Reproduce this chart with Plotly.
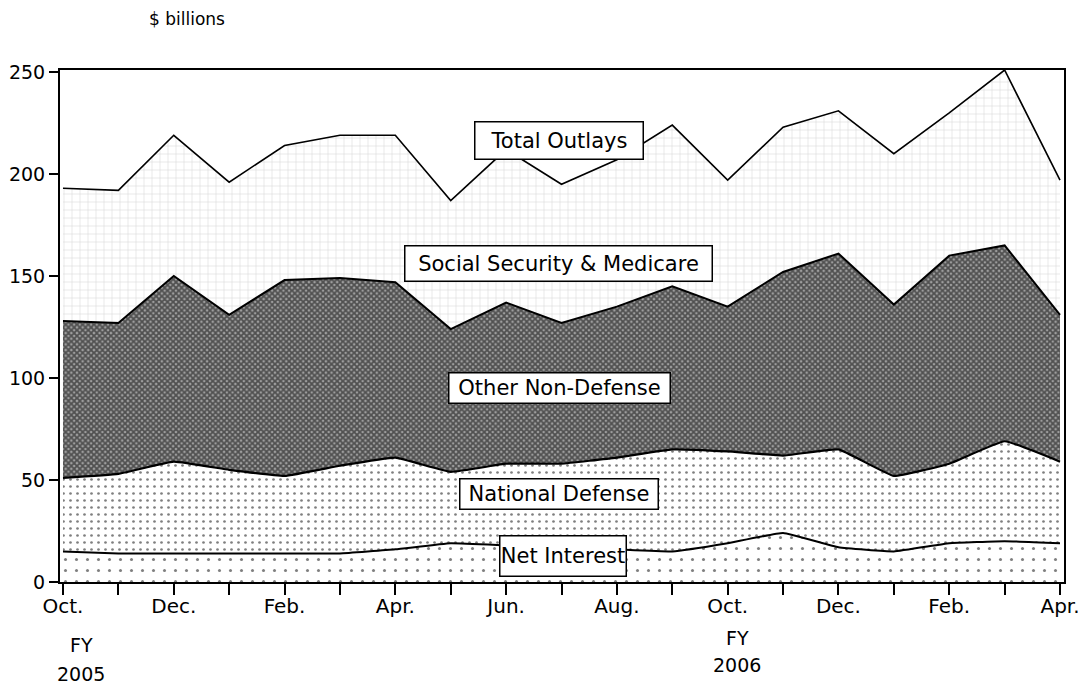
import plotly.graph_objects as go

months = ["Oct.", "Nov.", "Dec.", "Jan.", "Feb.", "Mar.", "Apr.", "May", "Jun.", "Jul.",
          "Aug.", "Sep.", "Oct.", "Nov.", "Dec.", "Jan.", "Feb.", "Mar.", "Apr."]
tick_labels = ["Oct.", "", "Dec.", "", "Feb.", "", "Apr.", "", "Jun.", "",
               "Aug.", "", "Oct.", "", "Dec.", "", "Feb.", "", "Apr."]
y_ticks = [0, 50, 100, 150, 200, 250]

# $ billions per month, Oct. FY2005 .. Apr. FY2006
net_interest = [15, 14, 14, 14, 14, 14, 16, 19, 18, 17, 16, 15, 19, 24, 17, 15, 19, 20, 19]
national_defense = [36, 39, 45, 41, 38, 43, 45, 35, 40, 41, 45, 50, 45, 38, 48, 37, 39, 49, 40]
other_non_defense = [77, 74, 91, 76, 96, 92, 86, 70, 79, 69, 74, 80, 71, 90, 96, 84, 102, 96, 72]
ss_medicare = [65, 65, 69, 65, 66, 70, 72, 63, 75, 68, 72, 79, 62, 71, 70, 74, 70, 86, 66]

x = list(range(len(months)))
FONT = "DejaVu Sans, Verdana, sans-serif"

OFF = 8  # page body margin
W, H = 1078, 678
L, T = 60 - OFF, 70 - OFF
PW, PH = 1004, 512
R, B = W - L - PW, H - T - PH


def py2paper(py):
    return (T + PH - (py - OFF)) / PH


def px2paper(px):
    return ((px - OFF) - L) / PW


fig = go.Figure()
fig.add_trace(go.Scatter(
    x=x, y=net_interest, name="Net Interest", stackgroup="one", mode="lines",
    line=dict(color="black", width=2, shape="spline", smoothing=0.3),
    fillcolor="white",
    fillpattern=dict(shape=".", fgcolor="black", bgcolor="white", size=11, solidity=0.06),
))
fig.add_trace(go.Scatter(
    x=x, y=national_defense, name="National Defense", stackgroup="one", mode="lines",
    line=dict(color="black", width=2.2, shape="spline", smoothing=0.3),
    fillcolor="white",
    fillpattern=dict(shape=".", fgcolor="black", bgcolor="white", size=7, solidity=0.12),
))
fig.add_trace(go.Scatter(
    x=x, y=other_non_defense, name="Other Non-Defense", stackgroup="one", mode="lines",
    line=dict(color="black", width=2),
    fillcolor="#333333",
    fillpattern=dict(shape="x", fgcolor="black", bgcolor="#a0a0a0", size=4, solidity=0.7),
))
fig.add_trace(go.Scatter(
    x=x, y=ss_medicare, name="Social Security & Medicare", stackgroup="one", mode="lines",
    line=dict(color="black", width=1.6),
    fillcolor="#f0f0f0",
    fillpattern=dict(shape="+", fgcolor="#a8a8a8", bgcolor="white", size=8, solidity=0.12),
))

# boxed labels: text, centre x px, centre y px, box width px, box height px
boxes = [
    ("Total Outlays", 559, 140, 170, 39),
    ("Social Security & Medicare", 558, 263, 309, 37),
    ("Other Non-Defense", 559, 388, 223, 32),
    ("National Defense", 559, 494, 200, 32),
    ("Net Interest", 563, 556, 128, 42),
]
for text, cx, cy, bw, bh in boxes:
    fig.add_annotation(x=px2paper(cx), y=py2paper(cy), xref="paper", yref="paper",
                       xanchor="center", yanchor="middle", text=text, showarrow=False,
                       width=bw - 3, height=bh - 3, align="center", valign="middle",
                       font=dict(family=FONT, size=21, color="black"),
                       bgcolor="white", bordercolor="black", borderwidth=1.5, borderpad=0)

fig.add_annotation(x=px2paper(187), y=py2paper(19), xref="paper", yref="paper",
                   xanchor="center", yanchor="middle", text="$ billions", showarrow=False,
                   font=dict(family=FONT, size=17, color="black"))
for txt, cx, cy in [("FY", 81, 645), ("2005", 81, 674), ("FY", 737, 638), ("2006", 737, 665)]:
    fig.add_annotation(x=px2paper(cx), y=py2paper(cy), xref="paper", yref="paper",
                       xanchor="center", yanchor="middle", text=txt, showarrow=False,
                       font=dict(family=FONT, size=19, color="black"))

fig.update_layout(
    width=W, height=H,
    margin=dict(l=L, r=R, t=T, b=B, pad=0),
    paper_bgcolor="white", plot_bgcolor="white",
    showlegend=False,
    font=dict(family=FONT, size=20, color="black"),
    xaxis=dict(range=[-0.054, 18.072], tickvals=x, ticktext=tick_labels, automargin=False,
               ticks="outside", ticklen=11, tickwidth=2, tickcolor="black",
               ticklabelstandoff=-6,
               showline=True, linecolor="black", linewidth=2, mirror=True,
               showgrid=False, zeroline=False, tickfont=dict(family=FONT, size=20)),
    yaxis=dict(range=[0, 251], tickvals=y_ticks, automargin=False,
               ticks="outside", ticklen=9, tickwidth=2, tickcolor="black",
               showline=True, linecolor="black", linewidth=2, mirror=True,
               showgrid=False, zeroline=False, tickfont=dict(family=FONT, size=19)),
)

fig.write_html("out.html")
